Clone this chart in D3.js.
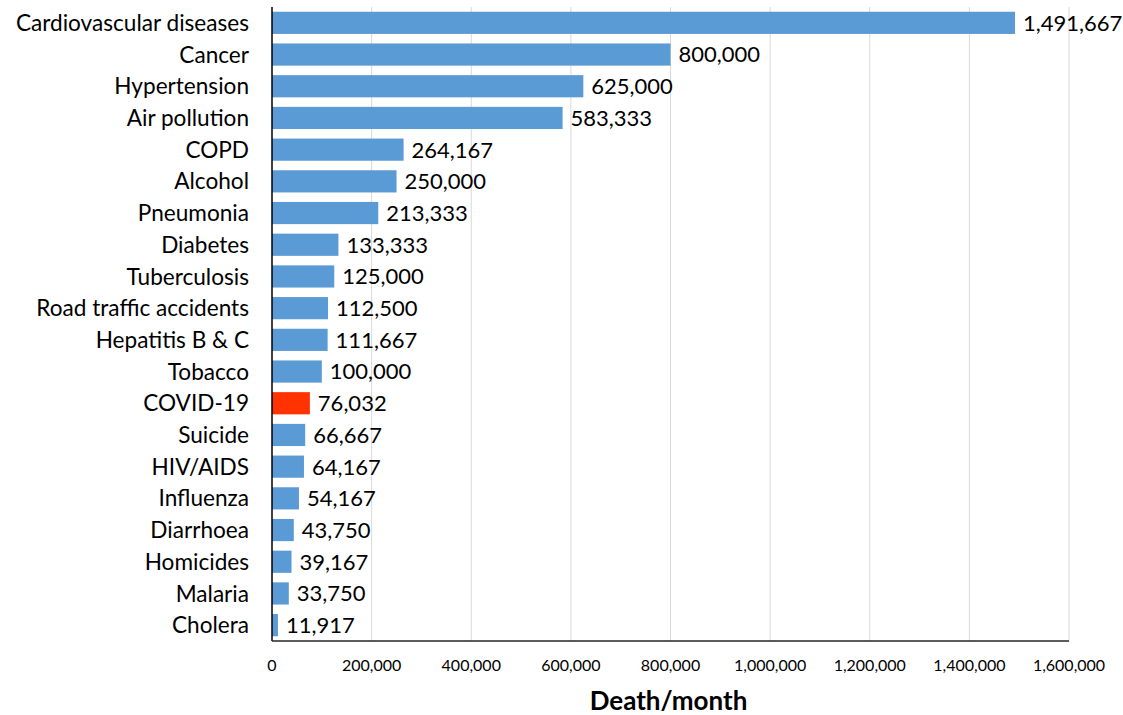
<!DOCTYPE html>
<html>
<head>
<meta charset="utf-8">
<script src="https://cdn.jsdelivr.net/npm/d3@7"></script>
<style>
  body { margin: 0; background: #fff; }
  text { font-family: Lato, "Open Sans", sans-serif; fill: #000; }
</style>
</head>
<body>
<div id="chart"></div>
<script>
const causes = ["Cardiovascular diseases","Cancer","Hypertension","Air pollution","COPD",
  "Alcohol","Pneumonia","Diabetes","Tuberculosis","Road traffic accidents",
  "Hepatitis B & C","Tobacco","COVID-19","Suicide","HIV/AIDS","Influenza",
  "Diarrhoea","Homicides","Malaria","Cholera"];
const deaths = [1491667,800000,625000,583333,264167,250000,213333,133333,125000,112500,
  111667,100000,76032,66667,64167,54167,43750,39167,33750,11917];
const xTicks = [0,200000,400000,600000,800000,1000000,1200000,1400000,1600000];
const highlight = "COVID-19";

const W = 1123, H = 715;
const m = { left: 272, right: 54, top: 7, bottom: 74 };

const svg = d3.select("#chart").append("svg").attr("width", W).attr("height", H);

const x = d3.scaleLinear().domain([0,1600000]).range([m.left, W-m.right]);
const y = d3.scaleBand().domain(causes).range([m.top, H-m.bottom]).paddingInner(0.3).paddingOuter(0.15);

// gridlines
svg.append("g").selectAll("line").data(xTicks.slice(1)).enter().append("line")
  .attr("x1", d => x(d)).attr("x2", d => x(d))
  .attr("y1", m.top).attr("y2", H-m.bottom)
  .attr("stroke", "#d9d9d9").attr("stroke-width", 1);

// bars
svg.append("g").selectAll("rect").data(causes).enter().append("rect")
  .attr("x", x(0)).attr("y", d => y(d))
  .attr("width", (d,i) => x(deaths[i]) - x(0))
  .attr("height", y.bandwidth())
  .attr("fill", d => d === highlight ? "#ff3300" : "#5b9bd5");

// value labels
svg.append("g").selectAll("text").data(causes).enter().append("text")
  .attr("x", (d,i) => x(deaths[i]) + 8)
  .attr("y", d => y(d) + y.bandwidth()/2)
  .attr("dy", "0.36em")
  .style("font-size", "22px")
  .text((d,i) => d3.format(",")(deaths[i]));

// category labels
svg.append("g").selectAll("text").data(causes).enter().append("text")
  .attr("x", m.left - 23)
  .attr("y", d => y(d) + y.bandwidth()/2)
  .attr("dy", "0.36em")
  .attr("text-anchor", "end")
  .style("font-size", "22.6px")
  .text(d => d);

// axes lines
svg.append("line").attr("x1", x(0)).attr("x2", x(0))
  .attr("y1", m.top).attr("y2", H-m.bottom)
  .attr("stroke", "#000").attr("stroke-width", 1.5);
svg.append("line").attr("x1", x(0)).attr("x2", x(1600000))
  .attr("y1", H-m.bottom).attr("y2", H-m.bottom)
  .attr("stroke", "#262626").attr("stroke-width", 1.5);

// tick labels
svg.append("g").selectAll("text").data(xTicks).enter().append("text")
  .attr("x", d => x(d)).attr("y", H-m.bottom+30)
  .attr("text-anchor", "middle")
  .style("font-size", "16px")
  .text(d => d3.format(",")(d));

// axis title
svg.append("text")
  .attr("x", (x(0)+x(1600000))/2 - 2).attr("y", 710)
  .attr("text-anchor", "middle")
  .style("font-size", "26px").style("font-weight", "bold")
  .text("Death/month");
</script>
</body>
</html>
